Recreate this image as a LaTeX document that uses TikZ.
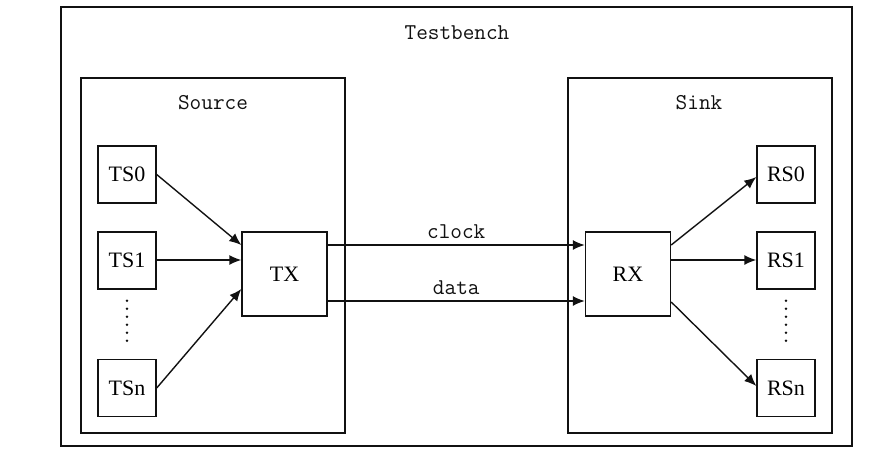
\documentclass[tikz,border=0pt]{standalone}
\usepackage{fontspec}
\usepackage{tikz}
\usepackage{xcolor}
\usetikzlibrary{arrows.meta,positioning,calc}
\newfontfamily\labelfont{Liberation Serif}
\definecolor{ink}{HTML}{111111}
\tikzset{
  frame/.style={
    draw=ink, line width=0.7pt, rectangle, inner sep=0pt
  },
  blockbox/.style={
    draw=ink, line width=0.7pt, rectangle, inner sep=0pt,
    minimum width=29pt, minimum height=28.5pt,
    font=\labelfont\fontsize{11}{13}\selectfont
  },
  corebox/.style={
    blockbox, minimum width=42.5pt, minimum height=42pt
  },
  titletext/.style={
    inner sep=1pt, text=ink, font=\ttfamily\fontsize{11.3}{13}\selectfont
  },
  sigline/.style={
    draw=ink, line width=0.7pt, -{Latex[length=6pt,width=5pt]}
  },
  dotcol/.style={
    draw=ink, line width=1.4pt, line cap=round, dash pattern=on 0pt off 4pt
  }
}

\begin{document}
\begin{tikzpicture}[x=0.5pt,y=-0.5pt]
  \useasboundingbox (0,0) rectangle (877,461);

  % frames
  \node[frame,minimum width=395.5pt,minimum height=219.5pt] (testbench) at (456.5,226.5) {};
  \node[frame,minimum width=132pt,minimum height=177.5pt] (source) at (213,255.5) {};
  \node[frame,minimum width=132pt,minimum height=177.5pt] (sink) at (700,255.5) {};
  \node[titletext] (tbtitle) at (457,33) {Testbench};
  \node[titletext] (srctitle) at (213,103) {Source};
  \node[titletext] (sinktitle) at (699,103) {Sink};

  % source side
  \node[blockbox] (ts0) at (127,174.5) {TS0};
  \node[blockbox] (ts1) at (127,260.5) {TS1};
  \node[blockbox] (tsn) at (127,388) {TSn};
  \node[corebox] (tx) at (284.5,274) {TX};
  \draw[dotcol,shorten <=5.5pt,shorten >=6pt] (ts1.south) -- (tsn.north);

  % sink side
  \node[corebox] (rx) at (628,274) {RX};
  \node[blockbox] (rs0) at (786,174.5) {RS0};
  \node[blockbox] (rs1) at (786,260.5) {RS1};
  \node[blockbox] (rsn) at (786,388) {RSn};
  \draw[dotcol,shorten <=5.5pt,shorten >=6pt] (rs1.south) -- (rsn.north);

  % connections
  \draw[sigline] (ts0.east) -- ([yshift=14.5pt]tx.west);
  \draw[sigline] ([yshift=0.25pt]ts1.east) -- ([yshift=7pt]tx.west);
  \draw[sigline] (tsn.east) -- ([yshift=-7.5pt]tx.west);
  \draw[sigline] ([yshift=14.5pt]tx.east) -- node[titletext,above=2pt] (clk) {clock} ([yshift=14.5pt]rx.west);
  \draw[sigline] ([yshift=-13.5pt]tx.east) -- node[titletext,above=2pt] (dat) {data} ([yshift=-13.5pt]rx.west);
  \draw[sigline] ([yshift=14.5pt]rx.east) -- ([yshift=-1.25pt]rs0.west);
  \draw[sigline] ([yshift=7pt]rx.east) -- ([yshift=0.25pt]rs1.west);
  \draw[sigline] ([yshift=-14pt]rx.east) -- ([yshift=1pt]rsn.west);
\end{tikzpicture}
\end{document}
